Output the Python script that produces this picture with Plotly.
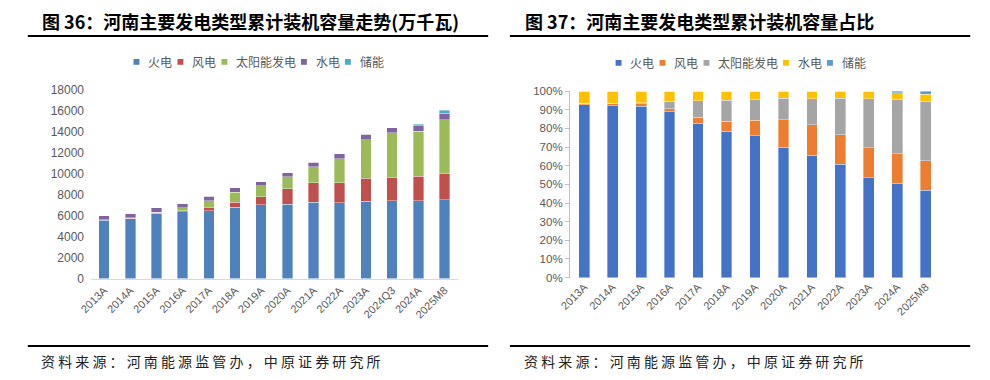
import plotly.graph_objects as go

# ---------------- data (万千瓦) ----------------
categories = ['2013A', '2014A', '2015A', '2016A', '2017A', '2018A', '2019A',
              '2020A', '2021A', '2022A', '2023A', '2024Q3', '2024A', '2025M8']
thermal = [5570, 5700, 6215, 6360, 6490, 6800, 7030, 7070, 7285, 7225, 7375, 7440, 7440, 7500]
wind    = [40, 60, 95, 120, 245, 460, 780, 1500, 1835, 1895, 2205, 2170, 2325, 2540]
solar   = [5, 20, 35, 290, 700, 985, 1045, 1165, 1530, 2330, 3645, 4290, 4285, 5110]
hydro   = [390, 400, 420, 390, 400, 415, 400, 380, 460, 460, 550, 490, 520, 620]
storage = [0, 0, 0, 0, 0, 0, 0, 0, 0, 0, 0, 0, 150, 270]
series_names = ['火电', '风电', '太阳能发电', '水电', '储能']
share_categories = [c for c in categories if c != '2024Q3']

y_ticks_left = list(range(0, 18001, 2000))
y_ticks_right = [i / 10 for i in range(11)]

colors_left = ['#4F81BD', '#C0504D', '#9BBB59', '#8064A2', '#4BACC6']
colors_right = ['#4472C4', '#ED7D31', '#A5A5A5', '#FFC000', '#5B9BD5']

title_left = '图 36：河南主要发电类型累计装机容量走势(万千瓦)'
title_right = '图 37：河南主要发电类型累计装机容量占比'
source_text = '资料来源：河南能源监管办，中原证券研究所'

# ---------------- figure ----------------
W, H = 990, 380
fig = go.Figure()
all_series = [thermal, wind, solar, hydro, storage]

for name, vals, col in zip(series_names, all_series, colors_left):
    fig.add_trace(go.Bar(x=categories, y=vals, name=name, marker_color=col,
                         marker_line_color='rgba(255,255,255,0.6)', marker_line_width=0.6,
                         width=0.4, xaxis='x', yaxis='y', showlegend=False))

totals = {c: sum(s[i] for s in all_series) for i, c in enumerate(categories)}
for name, vals, col in zip(series_names, all_series, colors_right):
    pct = [vals[categories.index(c)] / totals[c] for c in share_categories]
    fig.add_trace(go.Bar(x=share_categories, y=pct, name=name, marker_color=col,
                         marker_line_color='rgba(255,255,255,0.6)', marker_line_width=0.6,
                         width=0.38, xaxis='x2', yaxis='y2', showlegend=False))

def px(x):
    return x / W

def py(y):
    return 1 - y / H

tick_font = dict(family='Liberation Sans, Arial', size=12, color='#595959')

fig.update_layout(
    width=W, height=H, margin=dict(l=0, r=0, t=0, b=0),
    paper_bgcolor='white', plot_bgcolor='white', barmode='stack',
    showlegend=False,
    xaxis=dict(domain=[px(80), px(451)], anchor='y', showline=True, linecolor='#D9D9D9',
               linewidth=1, tickangle=-45, tickfont=dict(family='Liberation Sans, Arial', size=11, color='#595959'),
               showgrid=False, ticks=''),
    yaxis=dict(domain=[py(282), py(86)], anchor='x', range=[0, 18000], tickvals=y_ticks_left,
               tickformat='d', showgrid=False, zeroline=False, showline=False, tickfont=tick_font,
               ticklabelstandoff=6),
    xaxis2=dict(domain=[px(564.8), px(939.4)], anchor='y2', showline=False,
                tickangle=-45, tickfont=dict(family='Liberation Sans, Arial', size=11, color='#595959'),
                showgrid=False, ticks=''),
    yaxis2=dict(domain=[py(281), py(87.3)], anchor='x2', range=[0, 1], tickvals=y_ticks_right,
                tickformat='.0%', showgrid=False, zeroline=False, showline=True,
                linecolor='#BFBFBF', linewidth=1, ticks='outside', ticklen=4,
                tickcolor='#BFBFBF', tickfont=dict(family='Liberation Sans, Arial', size=11.5, color='#595959')),
)

annotations = []
shapes = []

# titles
for txt, x0 in [(title_left, 28), (title_right, 517)]:
    annotations.append(dict(text='<b>' + txt + '</b>', x=px(x0), y=py(15), xref='paper', yref='paper',
                            xanchor='left', yanchor='middle', showarrow=False,
                            font=dict(family='Noto Sans CJK SC', size=18, color='black')))
# rules
for x0, x1 in [(16, 482), (504, 970)]:
    shapes.append(dict(type='line', xref='paper', yref='paper', x0=px(x0), x1=px(x1),
                       y0=py(30), y1=py(30), line=dict(color='black', width=2)))
    shapes.append(dict(type='line', xref='paper', yref='paper', x0=px(x0), x1=px(x1),
                       y0=py(352), y1=py(352), line=dict(color='black', width=2)))
# sources (spaced characters)
spaced_source = ' '.join(source_text)
for x0 in [27, 516]:
    annotations.append(dict(text=spaced_source,
                            x=px(x0), y=py(368), xref='paper', yref='paper',
                            xanchor='left', yanchor='middle', showarrow=False,
                            font=dict(family='Noto Sans CJK SC', size=14, color='#222222')))

# custom legends
def add_legend(start_x, yc, cols):
    x = start_x
    for name, col in zip(series_names, cols):
        shapes.append(dict(type='rect', xref='paper', yref='paper', x0=px(x), x1=px(x + 6),
                           y0=py(yc + 3), y1=py(yc - 3), fillcolor=col, line=dict(width=0)))
        annotations.append(dict(text=name, x=px(x + 13), y=py(yc), xref='paper', yref='paper',
                                xanchor='left', yanchor='middle', showarrow=False,
                                font=dict(family='Noto Sans CJK SC', size=12, color='#595959')))
        x = x + 13 + 12 * len(name) + 7.5

add_legend(123, 57, colors_left)
add_legend(611, 58, colors_right)

fig.update_layout(annotations=annotations, shapes=shapes)
fig.write_html('out.html', config={'displayModeBar': False},
               post_script="document.body.style.margin='0';document.body.style.overflow='hidden';")
